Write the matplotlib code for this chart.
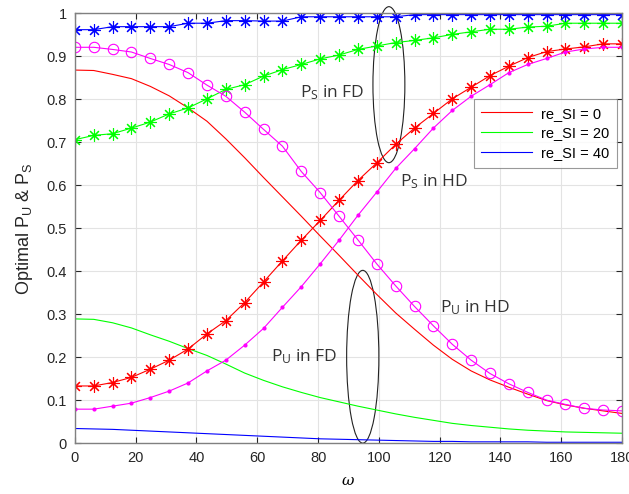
import numpy as np
import matplotlib
matplotlib.use("Agg")
import matplotlib.pyplot as plt
from matplotlib.patches import Ellipse

# omega grid (30 points, 0..180)
omega = np.linspace(0, 180, 30)

# P_U in FD (plain lines)
pu_fd_0 = [0.868, 0.867, 0.858, 0.848, 0.830, 0.808, 0.780, 0.749, 0.708, 0.664,
           0.618, 0.573, 0.528, 0.482, 0.437, 0.391, 0.346, 0.303, 0.265, 0.228,
           0.195, 0.168, 0.147, 0.130, 0.114, 0.099, 0.089, 0.081, 0.075, 0.069]
pu_fd_20 = [0.289, 0.288, 0.280, 0.268, 0.252, 0.237, 0.220, 0.204, 0.184, 0.163,
            0.146, 0.131, 0.118, 0.106, 0.096, 0.086, 0.077, 0.068, 0.060, 0.053,
            0.046, 0.041, 0.037, 0.033, 0.030, 0.028, 0.026, 0.025, 0.024, 0.023]
pu_fd_40 = [0.034, 0.033, 0.032, 0.030, 0.028, 0.026, 0.024, 0.022, 0.020, 0.018,
            0.016, 0.014, 0.012, 0.010, 0.009, 0.008, 0.007, 0.006, 0.005, 0.004,
            0.004, 0.003, 0.003, 0.003, 0.003, 0.002, 0.002, 0.002, 0.002, 0.002]

# P_S in FD (asterisk markers)
ps_fd_0 = [0.133, 0.133, 0.141, 0.153, 0.172, 0.193, 0.219, 0.254, 0.285, 0.327,
           0.375, 0.424, 0.472, 0.518, 0.565, 0.611, 0.652, 0.695, 0.733, 0.767,
           0.801, 0.828, 0.855, 0.877, 0.897, 0.911, 0.917, 0.922, 0.929, 0.929]
ps_fd_20 = [0.706, 0.716, 0.720, 0.733, 0.747, 0.766, 0.780, 0.801, 0.823, 0.834,
            0.854, 0.869, 0.881, 0.894, 0.903, 0.916, 0.924, 0.932, 0.937, 0.943,
            0.951, 0.957, 0.963, 0.963, 0.968, 0.970, 0.977, 0.977, 0.977, 0.977]
ps_fd_40 = [0.962, 0.962, 0.969, 0.969, 0.969, 0.969, 0.977, 0.977, 0.983, 0.983,
            0.982, 0.982, 0.992, 0.992, 0.992, 0.992, 0.992, 0.992, 0.997, 0.997,
            0.997, 0.997, 0.997, 0.997, 0.997, 0.997, 0.997, 0.997, 0.997, 0.997]

# HD curves (magenta)
pu_hd = [0.921, 0.921, 0.916, 0.910, 0.895, 0.881, 0.862, 0.833, 0.807, 0.770,
         0.730, 0.691, 0.632, 0.583, 0.528, 0.473, 0.417, 0.366, 0.318, 0.273,
         0.230, 0.193, 0.162, 0.138, 0.118, 0.100, 0.090, 0.081, 0.077, 0.075]
ps_hd = [0.079, 0.079, 0.086, 0.093, 0.106, 0.121, 0.140, 0.168, 0.193, 0.228,
         0.267, 0.316, 0.364, 0.417, 0.472, 0.530, 0.584, 0.639, 0.685, 0.733,
         0.774, 0.807, 0.834, 0.862, 0.881, 0.895, 0.910, 0.917, 0.921, 0.921]

legend_labels = ["re_SI = 0", "re_SI = 20", "re_SI = 40"]

plt.rcParams["font.family"] = ["Liberation Sans", "DejaVu Sans"]
plt.rcParams["mathtext.default"] = "regular"

fig = plt.figure(figsize=(6.29, 4.94), dpi=100)
ax = fig.add_axes([0.119, 0.103, 0.870, 0.870])

star = (8, 2, 0)
lw = 0.8
l0, = ax.plot(omega, pu_fd_0, color="#ff0000", lw=lw)
l1, = ax.plot(omega, pu_fd_20, color="#00ff00", lw=lw)
l2, = ax.plot(omega, pu_fd_40, color="#0000ff", lw=lw)
ax.plot(omega, ps_fd_0, color="#ff0000", lw=lw, marker=star, ms=9, mew=0.8)
ax.plot(omega, ps_fd_20, color="#00ff00", lw=lw, marker=star, ms=9, mew=0.8)
ax.plot(omega, ps_fd_40, color="#0000ff", lw=lw, marker=star, ms=9, mew=0.8)
ax.plot(omega, pu_hd, color="#ff00ff", lw=lw, marker="o", ms=7.5, mfc="none", mew=0.8)
ax.plot(omega, ps_hd, color="#ff00ff", lw=lw, marker=".", ms=4)

ax.add_patch(Ellipse((103.3, 0.834), 10.5, 0.363, fill=False, ec="#222222", lw=0.8, clip_on=False))
ax.add_patch(Ellipse((94.7, 0.201), 10.6, 0.402, fill=False, ec="#222222", lw=0.8))

tkw = dict(fontsize=12.5, color="#333333", family=["Open Sans", "DejaVu Sans"])
ax.text(74, 0.805, r"$P_S$ in FD", **tkw)
ax.text(107, 0.598, r"$P_S$ in HD", **tkw)
ax.text(120, 0.305, r"$P_U$ in HD", **tkw)
ax.text(64.5, 0.19, r"$P_U$ in FD", **tkw)

ax.set_xlim(0, 180)
ax.set_ylim(0, 1)
ax.set_xticks(np.arange(0, 181, 20))
ax.set_yticks(np.arange(0, 1.01, 0.1))
ax.set_yticklabels(["0", "0.1", "0.2", "0.3", "0.4", "0.5", "0.6", "0.7", "0.8", "0.9", "1"])
ax.grid(True, color="#e3e3e3", lw=0.8)
ax.set_axisbelow(True)
ax.tick_params(direction="in", top=True, right=True, length=4, width=0.8,
               labelsize=10.5, colors="#262626", pad=6)
for s in ax.spines.values():
    s.set_color("#808080")
    s.set_linewidth(1.0)

ax.set_xlabel(r"$\omega$", fontsize=11, labelpad=6, family=["DejaVu Serif"], style="italic")
ax.set_ylabel(r"Optimal $P_U$ & $P_S$", fontsize=13, color="#262626", labelpad=8)

leg = ax.legend([l0, l1, l2], legend_labels, loc="upper right", bbox_to_anchor=(0.99, 0.80),
                fontsize=10.5, handlelength=3.5, frameon=True, fancybox=False,
                borderpad=0.5, labelspacing=0.4, handletextpad=0.6, borderaxespad=0)
leg.get_frame().set_edgecolor("#808080")
leg.get_frame().set_linewidth(0.8)

fig.savefig("out.png", dpi=100)
